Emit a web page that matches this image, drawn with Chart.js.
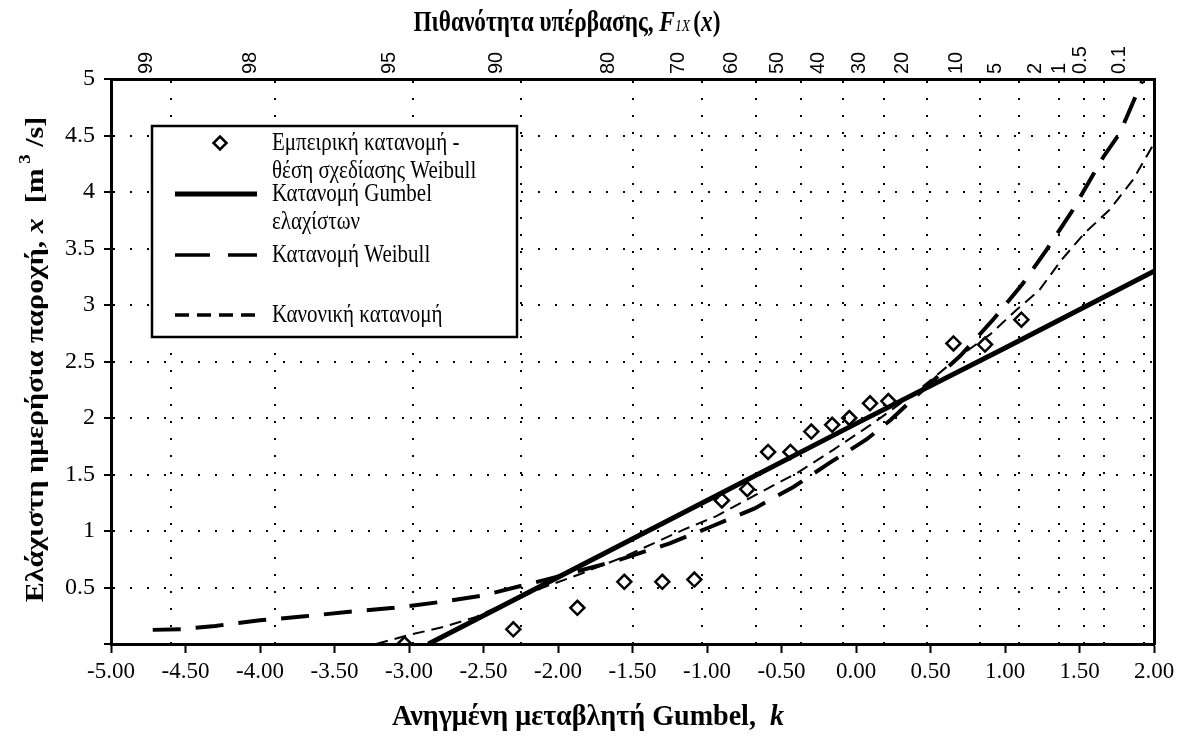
<!DOCTYPE html>
<html lang="el">
<head>
<meta charset="utf-8">
<title>Κατανομές ελάχιστης ημερήσιας παροχής</title>
<script src="https://cdn.jsdelivr.net/npm/chart.js@4.4.1/dist/chart.umd.min.js"></script>
<style>
  html, body { margin: 0; padding: 0; background: #fff; }
  #wrap { width: 1186px; height: 747px; }
</style>
</head>
<body>
<div id="wrap"><canvas id="grafico" width="1186" height="747"></canvas></div>
<script>
// Εμπειρική κατανομή - θέση σχεδίασης Weibull (k, x)
const empK = [-3.03, -2.30, -1.87, -1.555, -1.30, -1.085, -0.90, -0.73, -0.59, -0.44, -0.30, -0.16, -0.045, 0.094, 0.217, 0.654, 0.866, 1.11];
const empX = [0.00, 0.13, 0.32, 0.55, 0.55, 0.57, 1.27, 1.37, 1.70, 1.70, 1.88, 1.94, 2.00, 2.13, 2.15, 2.66, 2.65, 2.87];

// Κατανομή Gumbel ελαχίστων
const gumK = [-2.87, -2.0, -1.0, 0.0, 1.0, 2.0];
const gumX = [0.00, 0.59, 1.27, 1.95, 2.62, 3.30];

// Κατανομή Weibull
const weiK = [-4.72, -4.53, -4.3, -4.0, -3.7, -3.4, -3.1, -2.8, -2.5, -2.2, -2.08, -1.85, -1.6, -1.25, -0.97, -0.68, -0.42, -0.18, 0.07, 0.23, 0.45, 0.70, 0.92, 1.12, 1.28, 1.45, 1.66, 1.77, 1.92];
const weiX = [0.125, 0.13, 0.16, 0.21, 0.245, 0.285, 0.32, 0.37, 0.43, 0.53, 0.57, 0.65, 0.74, 0.89, 1.04, 1.20, 1.39, 1.60, 1.81, 1.98, 2.25, 2.55, 2.87, 3.19, 3.49, 3.83, 4.31, 4.52, 4.98];

// Κανονική κατανομή
const norK = [-3.22, -3.0, -2.77, -2.55, -2.4, -2.1, -1.85, -1.56, -1.16, -0.94, -0.80, -0.53, -0.40, -0.15, 0.11, 0.30, 0.45, 0.70, 0.90, 1.08, 1.23, 1.38, 1.53, 1.70, 1.86, 2.0];
const norX = [0.00, 0.08, 0.15, 0.24, 0.33, 0.50, 0.62, 0.77, 1.01, 1.13, 1.23, 1.42, 1.51, 1.72, 1.95, 2.13, 2.28, 2.55, 2.74, 2.96, 3.13, 3.40, 3.63, 3.84, 4.11, 4.43];

// Ετικέτες αξόνων
const kTicks = [-5, -4.5, -4, -3.5, -3, -2.5, -2, -1.5, -1, -0.5, 0, 0.5, 1, 1.5, 2];
const yTicks = [0, 0.5, 1, 1.5, 2, 2.5, 3, 3.5, 4, 4.5, 5];
const probTicks = [99, 98, 95, 90, 80, 70, 60, 50, 40, 30, 20, 10, 5, 2, 1, 0.5, 0.1];

// Υπόμνημα
const legendLines = [
  ['Εμπειρική κατανομή -', 'θέση σχεδίασης Weibull'],
  ['Κατανομή Gumbel', 'ελαχίστων'],
  ['Κατανομή Weibull'],
  ['Κανονική κατανομή']
];

const SERIF = '"Liberation Serif", "DejaVu Serif", serif';
const SANS = '"Liberation Sans", Arial, sans-serif';

// Ανηγμένη μεταβλητή Gumbel για πιθανότητα υπέρβασης p (%)
function gumbelK(p) {
  return Math.log(-Math.log(p / 100));
}

function zeugi(ks, xs) {
  return ks.map((k, i) => ({ x: k, y: xs[i] }));
}

/**
 * Γράφει κείμενο με τμήματα διαφορετικής γραμματοσειράς, κεντραρισμένο.
 * sx: τέντωμα κατά τη φορά ανάγνωσης, sy: τέντωμα κάθετα σε αυτή
 */
function grapseTmimata(ctx, tmimata, cx, cy, gonia, sx, sy) {
  ctx.save();
  ctx.translate(cx, cy);
  ctx.rotate(gonia);
  ctx.scale(sx || 1, sy || 1);
  ctx.textBaseline = 'middle';
  ctx.textAlign = 'left';
  ctx.fillStyle = '#000';
  let olo = 0;
  tmimata.forEach(t => {
    ctx.font = t.font;
    t.w = ctx.measureText(t.text).width;
    olo += t.w;
  });
  let x = -olo / 2;
  tmimata.forEach(t => {
    ctx.font = t.font;
    ctx.fillText(t.text, x, t.dy || 0);
    x += t.w;
  });
  ctx.restore();
}

const titloiPlugin = {
  id: 'titloi',
  afterDraw(chart) {
    const { ctx, chartArea } = chart;
    const B = 'bold 24px ' + SERIF;
    const BI = 'italic bold 24px ' + SERIF;

    grapseTmimata(ctx, [
      { text: 'Πιθανότητα υπέρβασης, ', font: B },
      { text: 'F', font: BI },
      { text: '1X ', font: 'italic 14px ' + SERIF, dy: 3 },
      { text: '(', font: B },
      { text: 'x', font: BI },
      { text: ')', font: B }
    ], 567, 23, 0, 0.97, 1.25);

    grapseTmimata(ctx, [
      { text: 'Ανηγμένη μεταβλητή Gumbel,  ', font: 'bold 26px ' + SERIF },
      { text: 'k', font: 'italic bold 26px ' + SERIF }
    ], 588, 717, 0, 1.08, 1.15);

    grapseTmimata(ctx, [
      { text: 'Ελάχιστη ημερήσια παροχή, ', font: B },
      { text: 'x', font: BI },
      { text: '  [m', font: B },
      { text: ' 3', font: 'bold 15px ' + SERIF, dy: -10 },
      { text: ' /s]', font: B }
    ], 36, (chartArea.top + chartArea.bottom) / 2 - 2, -Math.PI / 2, 1.25, 1.05);
  }
};

const ypomnimaPlugin = {
  id: 'ypomnima',
  afterDraw(chart) {
    const { ctx } = chart;
    const ds = chart.data.datasets;
    const box = { l: 152, t: 126, r: 517, b: 337 };
    ctx.save();
    ctx.fillStyle = '#fff';
    ctx.fillRect(box.l, box.t, box.r - box.l, box.b - box.t);
    ctx.lineWidth = 2.5;
    ctx.strokeStyle = '#000';
    ctx.strokeRect(box.l, box.t, box.r - box.l, box.b - box.t);

    const rowY = [143, 194, 255, 315];
    const textX = 272;
    const lineH = 28;
    ctx.font = '21px ' + SERIF;
    ctx.fillStyle = '#000';
    ctx.textBaseline = 'middle';

    legendLines.forEach((lines, i) => {
      const y = rowY[i];
      const d = ds[i];
      ctx.save();
      ctx.beginPath();
      ctx.rect(box.l, box.t, box.r - box.l - 2, box.b - box.t);
      ctx.clip();
      lines.forEach((t, j) => {
        ctx.save();
        ctx.translate(textX, y + j * lineH);
        ctx.scale(1, 1.18);
        ctx.fillText(t, 0, 0);
        ctx.restore();
      });
      ctx.restore();

      if (d.showLine === false) {
        const r = 6.5;
        ctx.save();
        ctx.lineWidth = d.pointBorderWidth;
        ctx.strokeStyle = '#000';
        ctx.beginPath();
        ctx.moveTo(220, y - r); ctx.lineTo(220 + r, y); ctx.lineTo(220, y + r); ctx.lineTo(220 - r, y);
        ctx.closePath();
        ctx.stroke();
        ctx.restore();
      } else {
        ctx.save();
        ctx.strokeStyle = '#000';
        ctx.lineWidth = d.legendWidth || d.borderWidth;
        ctx.setLineDash(d.legendDash || d.borderDash || []);
        ctx.beginPath();
        ctx.moveTo(175, y);
        ctx.lineTo(257, y);
        ctx.stroke();
        ctx.restore();
      }
    });
    ctx.restore();
  }
};

const ctx = document.getElementById('grafico').getContext('2d');

new Chart(ctx, {
  type: 'scatter',
  data: {
    datasets: [
      {
        label: 'Εμπειρική κατανομή',
        data: zeugi(empK, empX),
        showLine: false,
        pointStyle: 'rectRot',
        pointRadius: 7,
        pointBorderWidth: 2.5,
        borderColor: '#000',
        backgroundColor: 'rgba(255,255,255,0)',
        order: 0
      },
      {
        label: 'Κατανομή Gumbel ελαχίστων',
        data: zeugi(gumK, gumX),
        showLine: true,
        borderColor: '#000',
        borderWidth: 5,
        pointRadius: 0,
        tension: 0,
        order: 3
      },
      {
        label: 'Κατανομή Weibull',
        data: zeugi(weiK, weiX),
        showLine: true,
        borderColor: '#000',
        borderWidth: 4,
        borderDash: [28, 15],
        legendDash: [35, 18],
        legendWidth: 3.5,
        pointRadius: 0,
        tension: 0,
        order: 2
      },
      {
        label: 'Κανονική κατανομή',
        data: zeugi(norK, norX),
        showLine: true,
        borderColor: '#000',
        borderWidth: 2,
        borderDash: [12, 7],
        legendDash: [14, 8],
        legendWidth: 3.5,
        pointRadius: 0,
        tension: 0,
        order: 1
      }
    ]
  },
  options: {
    responsive: false,
    animation: false,
    events: [],
    layout: { padding: { left: 0, right: 32, top: 0, bottom: 0 } },
    font: { family: SERIF },
    plugins: {
      legend: { display: false },
      tooltip: { enabled: false },
      title: { display: false }
    },
    scales: {
      x: {
        type: 'linear',
        position: 'bottom',
        min: -5,
        max: 2,
        afterBuildTicks: s => { s.ticks = kTicks.map(v => ({ value: v })); },
        afterFit: s => { s.height = 103; },
        ticks: {
          callback: v => Number(v).toFixed(2),
          font: { family: SERIF, size: 23 },
          color: '#000',
          padding: 5,
          maxRotation: 0,
          autoSkip: false
        },
        grid: { drawOnChartArea: false, color: '#000', tickColor: '#000', tickLength: 9, tickWidth: 2 },
        border: { color: '#000', width: 3 }
      },
      x2: {
        type: 'linear',
        position: 'top',
        min: -5,
        max: 2,
        afterBuildTicks: s => { s.ticks = probTicks.map(p => ({ value: gumbelK(p) })); },
        afterFit: s => { s.height = 79; },
        ticks: {
          callback: (v, i) => String(probTicks[i]),
          font: { family: SANS, size: 20 },
          color: '#000',
          minRotation: 90,
          maxRotation: 90,
          autoSkip: false,
          padding: 5
        },
        grid: { drawOnChartArea: true, drawTicks: false, color: '#000', lineWidth: 2 },
        border: { color: '#000', width: 3, dash: [2, 15] }
      },
      y: {
        type: 'linear',
        position: 'left',
        min: 0,
        max: 5,
        afterBuildTicks: s => { s.ticks = yTicks.map(v => ({ value: v })); },
        afterFit: s => { s.width = 111; },
        ticks: {
          callback: v => (v === 0 ? '' : String(v)),
          font: { family: SERIF, size: 24 },
          color: '#000',
          padding: 9
        },
        grid: { color: '#000', lineWidth: 2, tickColor: '#000', tickWidth: 2, tickLength: 7, tickBorderDash: [] },
        border: { color: '#000', width: 3, dash: [2, 15] }
      },
      y2: {
        type: 'linear',
        position: 'right',
        min: 0,
        max: 5,
        afterFit: s => { s.width = 0; },
        ticks: { display: false },
        grid: { display: false },
        border: { display: true, color: '#000', width: 3 }
      }
    }
  },
  plugins: [titloiPlugin, ypomnimaPlugin]
});
</script>
</body>
</html>
